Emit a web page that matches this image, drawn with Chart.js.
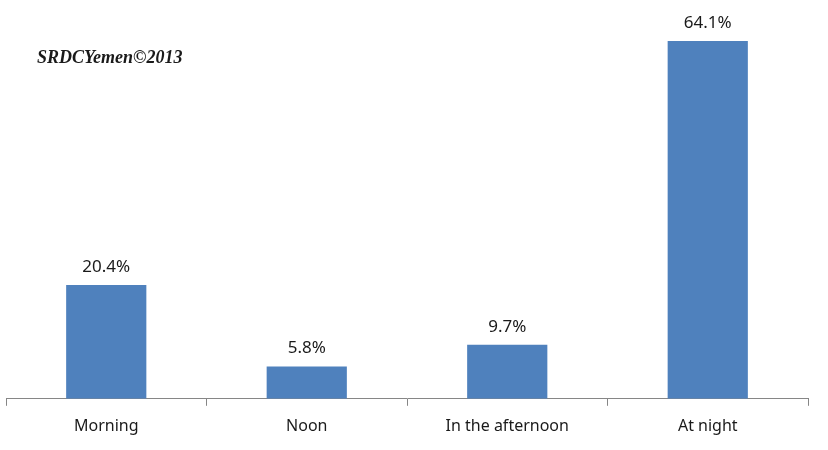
<!DOCTYPE html>
<html>
<head>
<meta charset="utf-8">
<script src="https://cdn.jsdelivr.net/npm/chart.js@4/dist/chart.umd.min.js"></script>
<style>
  html, body { margin: 0; padding: 0; background: #fff; }
  #wrap { width: 828px; height: 450px; }
</style>
</head>
<body>
<div id="wrap"><canvas id="bars"></canvas></div>
<script>
const categories = ['Morning', 'Noon', 'In the afternoon', 'At night'];
const shares = [20.4, 5.8, 9.7, 64.1];
const watermark = 'SRDCYemen\u00a92013';

// values above each bar + the watermark in the top left corner
const labelPlugin = {
    id: 'labels',
    afterDatasetsDraw(chart) {
        const ctx = chart.ctx;
        ctx.save();
        ctx.fillStyle = '#1a1a1a';
        ctx.font = '17px "Noto Sans"';
        ctx.textAlign = 'center';
        ctx.textBaseline = 'alphabetic';
        chart.getDatasetMeta(0).data.forEach((bar, i) => {
            ctx.fillText(shares[i].toFixed(1) + '%', bar.x, bar.y - 13);
        });
        ctx.font = 'italic bold 18px "Liberation Serif"';
        ctx.textAlign = 'left';
        ctx.textBaseline = 'middle';
        ctx.fillText(watermark, 37, 58);
        ctx.restore();
    }
};

new Chart(document.getElementById('bars').getContext('2d'), {
    type: 'bar',
    data: {
        labels: categories,
        datasets: [{
            data: shares,
            backgroundColor: '#4f81bd',
            categoryPercentage: 0.4,
            barPercentage: 1.0
        }]
    },
    options: {
        responsive: true,
        maintainAspectRatio: false,
        animation: false,
        layout: { padding: { top: 8, left: 6, right: 20, bottom: 3 } },
        plugins: {
            legend: { display: false },
            tooltip: { enabled: false }
        },
        scales: {
            x: {
                offset: true,
                grid: {
                    offset: true,
                    drawOnChartArea: false,
                    drawTicks: true,
                    tickLength: 7,
                    color: '#868686'
                },
                border: { display: true, color: '#868686' },
                ticks: {
                    color: '#1a1a1a',
                    font: { family: '"Noto Sans"', size: 16 },
                    padding: 11,
                    maxRotation: 0
                }
            },
            y: {
                display: false,
                min: 0,
                max: 70
            }
        }
    },
    plugins: [labelPlugin]
});
</script>
</body>
</html>
